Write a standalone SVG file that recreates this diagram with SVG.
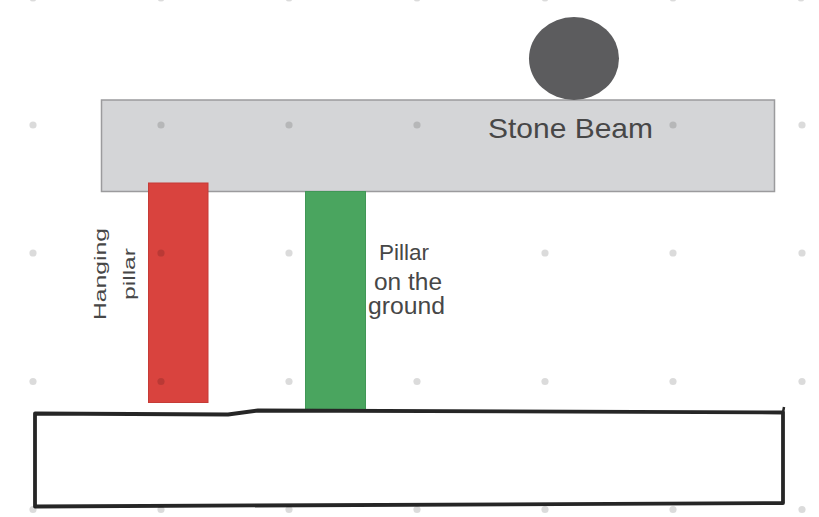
<svg xmlns="http://www.w3.org/2000/svg" width="819" height="517" viewBox="0 0 819 517">
<style>
.lbl{font-family:"Liberation Sans",Arial,sans-serif;fill:#474747}
.dot{fill:#000;fill-opacity:0.14}
</style>
<defs>
<circle id="d" r="3.6" class="dot"/>
</defs>
<rect width="819" height="517" fill="#fff"/>
<g id="beam">
<rect x="101.5" y="100" width="673" height="91.5" fill="#d4d5d7" stroke="#9b9b9d" stroke-width="1.5"/>
</g>
<g id="boulder">
<ellipse cx="574" cy="58.5" rx="45" ry="41.5" fill="#5c5c5e"/>
</g>
<g id="hanging-pillar">
<rect x="148.5" y="183" width="59.5" height="219.5" fill="#d9433e" stroke="#c63b36" stroke-width="1"/>
</g>
<g id="ground-pillar">
<rect x="305.5" y="191.5" width="60" height="219" fill="#4aa55f" stroke="#419757" stroke-width="1"/>
</g>
<g id="ground">
<path d="M35,413.5 L228,414.5 L258,410.5 L783,412.5 L783,503 L35,506.5 Z" fill="#fff" stroke="#262626" stroke-width="3.8" stroke-linejoin="round"/>
<path d="M783,412.5 L784,407" fill="none" stroke="#262626" stroke-width="2.5"/>
</g>
<g id="grid">
<use href="#d" x="33" y="-2"/><use href="#d" x="161" y="-2"/><use href="#d" x="289" y="-2"/><use href="#d" x="417" y="-2"/><use href="#d" x="545" y="-2"/><use href="#d" x="673" y="-2"/><use href="#d" x="801" y="-2"/>
<use href="#d" x="33" y="125"/><use href="#d" x="161" y="125"/><use href="#d" x="289" y="125"/><use href="#d" x="417" y="125"/><use href="#d" x="673" y="125"/><use href="#d" x="802" y="125"/>
<use href="#d" x="33" y="253"/><use href="#d" x="161" y="253"/><use href="#d" x="289" y="253"/><use href="#d" x="545" y="253"/><use href="#d" x="673" y="253"/><use href="#d" x="802" y="253"/>
<use href="#d" x="33" y="381.5"/><use href="#d" x="161" y="381.5"/><use href="#d" x="289" y="381.5"/><use href="#d" x="417" y="381.5"/><use href="#d" x="545" y="381.5"/><use href="#d" x="673" y="381.5"/><use href="#d" x="802" y="381.5"/>
<use href="#d" x="33" y="509.5"/><use href="#d" x="161" y="509.5"/><use href="#d" x="289" y="509.5"/><use href="#d" x="417" y="509.5"/><use href="#d" x="545" y="509.5"/><use href="#d" x="673" y="509.5"/><use href="#d" x="802" y="509.5"/>
</g>
<g id="labels">
<text class="lbl" x="488" y="138" font-size="28" textLength="165" lengthAdjust="spacingAndGlyphs">Stone Beam</text>
<text class="lbl" font-size="16" text-anchor="middle" transform="translate(105.5,274) rotate(-90)" textLength="92" lengthAdjust="spacingAndGlyphs">Hanging</text>
<text class="lbl" font-size="16" text-anchor="middle" transform="translate(134.5,274) rotate(-90)" textLength="52" lengthAdjust="spacingAndGlyphs">pillar</text>
<text class="lbl" font-size="22.5" x="379" y="260">Pillar</text>
<text class="lbl" font-size="23.5" x="374" y="290" textLength="68" lengthAdjust="spacingAndGlyphs">on the</text>
<text class="lbl" font-size="23.5" x="368" y="313.5" textLength="77" lengthAdjust="spacingAndGlyphs">ground</text>
</g>
</svg>
